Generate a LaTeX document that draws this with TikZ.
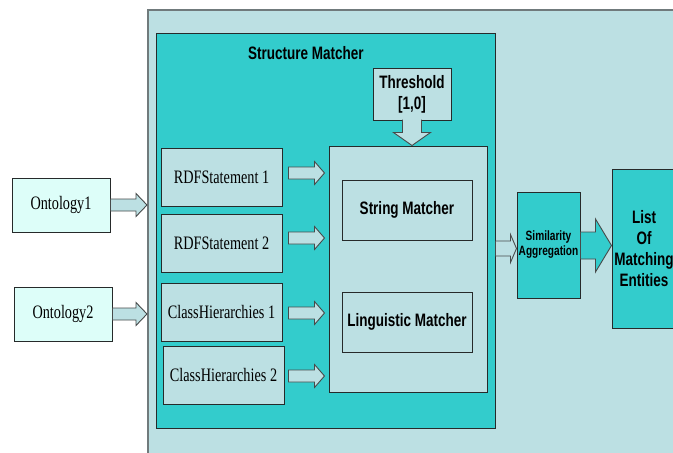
\documentclass[tikz,border=0pt]{standalone}
\usepackage{fontspec}
\setmainfont{Liberation Serif}[FakeStretch=0.75]
\setsansfont{Liberation Sans}[FakeStretch=0.75]
\usetikzlibrary{calc}
\definecolor{paleteal}{RGB}{188,224,227}
\definecolor{matchteal}{RGB}{51,204,204}
\definecolor{icecyan}{RGB}{221,254,249}
\definecolor{edgegray}{RGB}{112,122,124}
\definecolor{boxline}{RGB}{38,42,42}
\tikzset{
  box/.style={draw=boxline, line width=1pt, inner sep=0pt, align=center},
  inputbox/.style={box, fill=paleteal, minimum width=121, minimum height=58,
    font=\fontsize{19}{21}\selectfont},
  ontobox/.style={box, fill=icecyan, minimum width=98, minimum height=54,
    font=\fontsize{19}{21}\selectfont},
  matchbox/.style={box, fill=paleteal, minimum width=130, minimum height=60,
    font=\sffamily\bfseries\fontsize{18}{21}\selectfont},
  sanslabel/.style={font=\sffamily\bfseries\fontsize{18}{21}\selectfont, align=center},
  blockarrow/.style={fill=paleteal, draw=boxline!85, line width=0.9pt, line join=miter}
}
% horizontal block arrow: start, end, stem half width, head half width, head length
\newcommand{\harrow}[6][]{%
  \filldraw[blockarrow,#1] let \p1=(#2), \p2=(#3) in
    (\x1,\y1+#4) -- (\x2-#6,\y1+#4) -- (\x2-#6,\y1+#5) -- (\x2,\y1)
    -- (\x2-#6,\y1-#5) -- (\x2-#6,\y1-#4) -- (\x1,\y1-#4) -- cycle;}
\begin{document}
\begin{tikzpicture}[x=1pt,y=-1pt]
  \useasboundingbox (0,0) rectangle (673,453);
  \clip (0,0) rectangle (673,453);

  % containers
  \node[box, draw=edgegray, line width=2pt, fill=paleteal, minimum width=542, minimum height=460] (outer) at (419,240) {};
  \node[box, fill=matchteal, minimum width=339, minimum height=395] (struct) at (325.5,230.5) {};
  \node[sanslabel] (title) at (306,53) {Structure Matcher};

  % inputs of the structure matcher
  \node[inputbox] (rdf1) at (221.5,177) {RDFStatement 1};
  \node[inputbox] (rdf2) at (221.5,243) {RDFStatement 2};
  \node[inputbox] (ch1) at (221.5,312) {ClassHierarchies 1};
  \node[inputbox] (ch2) at (223.5,375) {ClassHierarchies 2};

  % matchers
  \node[box, fill=paleteal, minimum width=158, minimum height=246] (matcher) at (408,269) {};
  \node[matchbox] (string) at (407,210) {String Matcher};
  \node[matchbox] (ling) at (407,322) {Linguistic Matcher};
  \node[box, fill=paleteal, minimum width=78, minimum height=52, sanslabel] (thr) at (412,94) {Threshold\\{}[1,0]};

  % ontologies
  \node[ontobox] (onto1) at (61,205) {Ontology1};
  \node[ontobox] (onto2) at (63,314) {Ontology2};

  % output side
  \node[box, fill=matchteal, minimum width=63, minimum height=106,
    font=\sffamily\bfseries\fontsize{13.5}{15}\selectfont] (sim) at (548.5,245) {Similarity\\Aggregation};
  \node[box, fill=matchteal, minimum width=64, minimum height=159, sanslabel] (list) at (644,248.5) {List\\Of\\Matching\\Entities};

  % arrows
  \harrow{onto1.east}{outer.west |- onto1.east}{6pt}{11.5pt}{11pt}
  \harrow{onto2.east}{outer.west |- onto2.east}{6pt}{11.5pt}{11pt}
  \harrow{$(rdf1.east)+(6,-4)$}{$(matcher.west)+(-4,0)$}{6pt}{11.5pt}{10pt}
  \harrow{$(rdf2.east)+(6,-5)$}{$(matcher.west)+(-4,0)$}{6pt}{11.5pt}{10pt}
  \harrow{$(ch1.east)+(6,1)$}{$(matcher.west)+(-4,0)$}{6pt}{11.5pt}{10pt}
  \harrow{$(ch2.east)+(4,1)$}{$(matcher.west)+(-4,0)$}{6pt}{11.5pt}{10pt}
  \harrow{struct.east |- 0,248.5}{sim.west}{7.5pt}{14pt}{6pt}
  \harrow[fill=matchteal]{$(sim.east)+(0,0.5)$}{list.west}{13.5pt}{26.5pt}{16pt}
  \filldraw[blockarrow] let \p1=(thr.south), \p2=(matcher.north) in
    (\x1-9.5pt,\y1+1pt) -- (\x1-9.5pt,\y2+13pt) -- (\x1-18.5pt,\y2+13pt) -- (\x1,\y2)
    -- (\x1+18.5pt,\y2+13pt) -- (\x1+9.5pt,\y2+13pt) -- (\x1+9.5pt,\y1+1pt);
\end{tikzpicture}
\end{document}
